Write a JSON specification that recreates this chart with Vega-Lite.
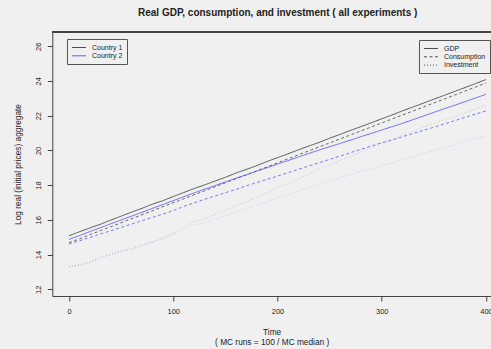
{
  "$schema": "https://vega.github.io/schema/vega-lite/v6.json",
  "autosize": {"type": "none"},
  "padding": {"left": 52.3, "top": 32, "right": 0, "bottom": 53},
  "width": 438.7,
  "height": 264,
  "background": "#f0f0f0",
  "title": {"text": "Real GDP, consumption, and investment ( all experiments )", "fontSize": 10, "fontWeight": "bold", "font": "Liberation Sans", "color": "#222222", "anchor": "middle", "dx": 6, "offset": 14},
  "config": {
    "view": {"stroke": null},
    "axis": {"domainColor": "#444444", "tickColor": "#444444", "labelColor": "#222222", "titleColor": "#222222", "labelFont": "Liberation Sans", "titleFont": "Liberation Sans", "labelFontSize": 7.5, "titleFontSize": 8.3, "titleFontWeight": "normal", "grid": false, "tickSize": 5, "labelOverlap": false},
    "legend": {"labelFont": "Liberation Sans", "labelFontSize": 7, "labelColor": "#222222", "padding": 4.5, "rowPadding": 1.3, "strokeColor": "#555555", "fillColor": "#f0f0f0", "symbolType": "M-1,0H3", "symbolSize": 49, "symbolStrokeWidth": 1, "labelOffset": 12.5, "cornerRadius": 0}
  },
  "datasets": {
    "runs": [
      {"t":0,"country":"Country 1","GDP":15.08,"Consumption":14.68,"Investment":13.30},
      {"t":10,"country":"Country 1","GDP":15.31,"Consumption":14.90,"Investment":13.42},
      {"t":20,"country":"Country 1","GDP":15.53,"Consumption":15.14,"Investment":13.58},
      {"t":30,"country":"Country 1","GDP":15.74,"Consumption":15.37,"Investment":13.84},
      {"t":40,"country":"Country 1","GDP":15.98,"Consumption":15.60,"Investment":14.03},
      {"t":50,"country":"Country 1","GDP":16.21,"Consumption":15.83,"Investment":14.22},
      {"t":60,"country":"Country 1","GDP":16.44,"Consumption":16.06,"Investment":14.34},
      {"t":70,"country":"Country 1","GDP":16.66,"Consumption":16.29,"Investment":14.56},
      {"t":80,"country":"Country 1","GDP":16.90,"Consumption":16.52,"Investment":14.74},
      {"t":90,"country":"Country 1","GDP":17.10,"Consumption":16.76,"Investment":14.97},
      {"t":100,"country":"Country 1","GDP":17.34,"Consumption":16.98,"Investment":15.22},
      {"t":110,"country":"Country 1","GDP":17.57,"Consumption":17.21,"Investment":15.58},
      {"t":120,"country":"Country 1","GDP":17.80,"Consumption":17.44,"Investment":15.92},
      {"t":130,"country":"Country 1","GDP":18.01,"Consumption":17.67,"Investment":16.04},
      {"t":140,"country":"Country 1","GDP":18.23,"Consumption":17.90,"Investment":16.31},
      {"t":150,"country":"Country 1","GDP":18.45,"Consumption":18.13,"Investment":16.53},
      {"t":160,"country":"Country 1","GDP":18.69,"Consumption":18.36,"Investment":16.82},
      {"t":170,"country":"Country 1","GDP":18.90,"Consumption":18.59,"Investment":17.03},
      {"t":180,"country":"Country 1","GDP":19.12,"Consumption":18.82,"Investment":17.31},
      {"t":190,"country":"Country 1","GDP":19.36,"Consumption":19.05,"Investment":17.54},
      {"t":200,"country":"Country 1","GDP":19.58,"Consumption":19.28,"Investment":17.86},
      {"t":210,"country":"Country 1","GDP":19.80,"Consumption":19.51,"Investment":18.08},
      {"t":220,"country":"Country 1","GDP":20.03,"Consumption":19.74,"Investment":18.37},
      {"t":230,"country":"Country 1","GDP":20.25,"Consumption":19.97,"Investment":18.63},
      {"t":240,"country":"Country 1","GDP":20.46,"Consumption":20.20,"Investment":18.92},
      {"t":250,"country":"Country 1","GDP":20.70,"Consumption":20.43,"Investment":19.14},
      {"t":260,"country":"Country 1","GDP":20.92,"Consumption":20.66,"Investment":19.41},
      {"t":270,"country":"Country 1","GDP":21.15,"Consumption":20.89,"Investment":19.63},
      {"t":280,"country":"Country 1","GDP":21.37,"Consumption":21.12,"Investment":19.92},
      {"t":290,"country":"Country 1","GDP":21.59,"Consumption":21.35,"Investment":20.14},
      {"t":300,"country":"Country 1","GDP":21.82,"Consumption":21.58,"Investment":20.42},
      {"t":310,"country":"Country 1","GDP":22.04,"Consumption":21.81,"Investment":20.63},
      {"t":320,"country":"Country 1","GDP":22.28,"Consumption":22.04,"Investment":20.91},
      {"t":330,"country":"Country 1","GDP":22.50,"Consumption":22.27,"Investment":21.08},
      {"t":340,"country":"Country 1","GDP":22.72,"Consumption":22.50,"Investment":21.36},
      {"t":350,"country":"Country 1","GDP":22.95,"Consumption":22.73,"Investment":21.53},
      {"t":360,"country":"Country 1","GDP":23.17,"Consumption":22.96,"Investment":21.77},
      {"t":370,"country":"Country 1","GDP":23.40,"Consumption":23.19,"Investment":21.94},
      {"t":380,"country":"Country 1","GDP":23.62,"Consumption":23.42,"Investment":22.17},
      {"t":390,"country":"Country 1","GDP":23.85,"Consumption":23.65,"Investment":22.38},
      {"t":400,"country":"Country 1","GDP":24.08,"Consumption":23.88,"Investment":22.62},
      {"t":0,"country":"Country 2","GDP":14.87,"Consumption":14.60,"Investment":13.30},
      {"t":10,"country":"Country 2","GDP":15.09,"Consumption":14.79,"Investment":13.38},
      {"t":20,"country":"Country 2","GDP":15.32,"Consumption":14.98,"Investment":13.52},
      {"t":30,"country":"Country 2","GDP":15.54,"Consumption":15.18,"Investment":13.79},
      {"t":40,"country":"Country 2","GDP":15.77,"Consumption":15.37,"Investment":13.98},
      {"t":50,"country":"Country 2","GDP":15.99,"Consumption":15.56,"Investment":14.16},
      {"t":60,"country":"Country 2","GDP":16.21,"Consumption":15.75,"Investment":14.29},
      {"t":70,"country":"Country 2","GDP":16.43,"Consumption":15.95,"Investment":14.51},
      {"t":80,"country":"Country 2","GDP":16.66,"Consumption":16.14,"Investment":14.69},
      {"t":90,"country":"Country 2","GDP":16.88,"Consumption":16.33,"Investment":14.92},
      {"t":100,"country":"Country 2","GDP":17.10,"Consumption":16.53,"Investment":15.13},
      {"t":110,"country":"Country 2","GDP":17.33,"Consumption":16.77,"Investment":15.46},
      {"t":120,"country":"Country 2","GDP":17.55,"Consumption":16.98,"Investment":15.72},
      {"t":130,"country":"Country 2","GDP":17.76,"Consumption":17.18,"Investment":15.83},
      {"t":140,"country":"Country 2","GDP":17.97,"Consumption":17.37,"Investment":16.06},
      {"t":150,"country":"Country 2","GDP":18.18,"Consumption":17.56,"Investment":16.22},
      {"t":160,"country":"Country 2","GDP":18.39,"Consumption":17.75,"Investment":16.47},
      {"t":170,"country":"Country 2","GDP":18.59,"Consumption":17.95,"Investment":16.63},
      {"t":180,"country":"Country 2","GDP":18.80,"Consumption":18.14,"Investment":16.88},
      {"t":190,"country":"Country 2","GDP":19.00,"Consumption":18.33,"Investment":17.03},
      {"t":200,"country":"Country 2","GDP":19.21,"Consumption":18.52,"Investment":17.27},
      {"t":210,"country":"Country 2","GDP":19.41,"Consumption":18.71,"Investment":17.43},
      {"t":220,"country":"Country 2","GDP":19.62,"Consumption":18.91,"Investment":17.67},
      {"t":230,"country":"Country 2","GDP":19.82,"Consumption":19.10,"Investment":17.83},
      {"t":240,"country":"Country 2","GDP":20.02,"Consumption":19.29,"Investment":18.07},
      {"t":250,"country":"Country 2","GDP":20.21,"Consumption":19.48,"Investment":18.22},
      {"t":260,"country":"Country 2","GDP":20.40,"Consumption":19.67,"Investment":18.44},
      {"t":270,"country":"Country 2","GDP":20.59,"Consumption":19.87,"Investment":18.58},
      {"t":280,"country":"Country 2","GDP":20.79,"Consumption":20.06,"Investment":18.80},
      {"t":290,"country":"Country 2","GDP":20.98,"Consumption":20.25,"Investment":18.93},
      {"t":300,"country":"Country 2","GDP":21.17,"Consumption":20.44,"Investment":19.14},
      {"t":310,"country":"Country 2","GDP":21.37,"Consumption":20.60,"Investment":19.28},
      {"t":320,"country":"Country 2","GDP":21.56,"Consumption":20.79,"Investment":19.49},
      {"t":330,"country":"Country 2","GDP":21.77,"Consumption":20.97,"Investment":19.63},
      {"t":340,"country":"Country 2","GDP":21.98,"Consumption":21.15,"Investment":19.84},
      {"t":350,"country":"Country 2","GDP":22.19,"Consumption":21.33,"Investment":19.98},
      {"t":360,"country":"Country 2","GDP":22.40,"Consumption":21.52,"Investment":20.19},
      {"t":370,"country":"Country 2","GDP":22.60,"Consumption":21.71,"Investment":20.31},
      {"t":380,"country":"Country 2","GDP":22.81,"Consumption":21.90,"Investment":20.52},
      {"t":390,"country":"Country 2","GDP":23.02,"Consumption":22.09,"Investment":20.66},
      {"t":400,"country":"Country 2","GDP":23.23,"Consumption":22.28,"Investment":20.83}
    ]
  },
  "data": {"name": "runs"},
  "transform": [{"fold": ["GDP", "Consumption", "Investment"], "as": ["v", "y"]}],
  "encoding": {
    "x": {"field": "t", "type": "quantitative", "scale": {"domain": [-16, 404.8], "nice": false, "zero": false},
          "axis": {"values": [0, 100, 200, 300, 400], "title": ["Time", "( MC runs = 100 / MC median  )"], "labelPadding": 6.5, "titlePadding": 12.5, "titleLineHeight": 10, "labelFlush": false}},
    "y": {"field": "y", "type": "quantitative", "scale": {"domain": [11.61, 26.82], "nice": false, "zero": false},
          "axis": {"values": [12, 14, 16, 18, 20, 22, 24, 26], "title": "Log real (initial prices) aggregate", "labelAngle": 270, "labelAlign": "center", "labelBaseline": "bottom", "labelPadding": 5, "titlePadding": 12, "labelOverlap": false, "labelFlush": false}},
    "color": {"field": "country", "type": "nominal", "scale": {"domain": ["Country 1", "Country 2"], "range": ["#3a3a3a", "#5050ff"]},
              "legend": {"title": null, "orient": "none", "legendX": 14.7, "legendY": 7, "symbolOpacity": 0.9}},
    "strokeDash": {"field": "v", "type": "nominal", "scale": {"domain": ["GDP", "Consumption", "Investment"], "range": [[1, 0], [3, 2.5], [1, 2]]},
                   "legend": {"title": null, "orient": "none", "legendX": 366.7, "legendY": 8, "symbolStrokeColor": "#333333", "symbolOpacity": 0.85}}
  },
  "layer": [
    {
      "transform": [{"filter": "datum.v === 'Investment'"}],
      "mark": {"type": "line", "strokeWidth": 1, "opacity": 0.25}
    },
    {
      "transform": [{"filter": "datum.v === 'Consumption'"}],
      "mark": {"type": "line", "strokeWidth": 1, "opacity": 0.75}
    },
    {
      "transform": [{"filter": "datum.v === 'GDP'"}],
      "mark": {"type": "line", "strokeWidth": 1, "opacity": 0.85}
    },
    {
      "mark": {"type": "rule", "color": "#444444", "strokeWidth": 1},
      "encoding": {"y": {"datum": 26.82}, "x": null, "color": null, "strokeDash": null}
    }
  ]
}
